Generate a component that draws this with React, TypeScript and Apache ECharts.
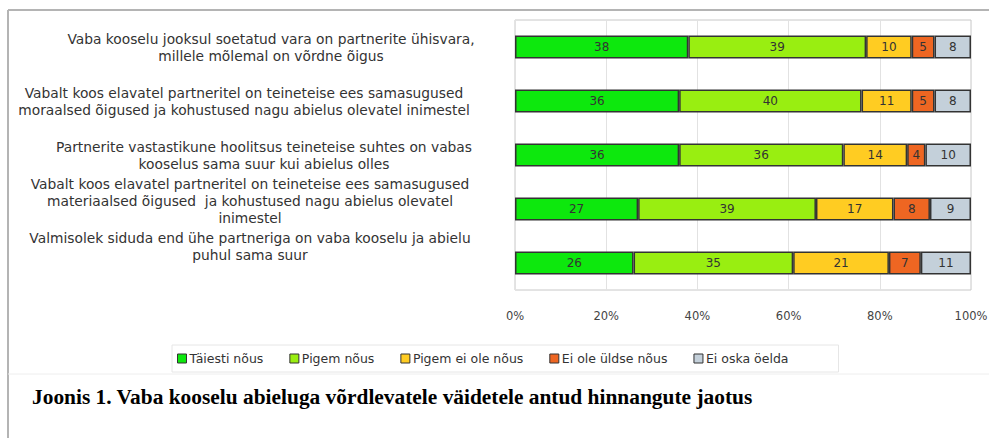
import React, { useEffect, useRef } from "react";
import * as echarts from "echarts";

const categories = [
  "Vaba kooselu jooksul soetatud vara on partnerite ühisvara,\nmillele mõlemal on võrdne õigus",
  "Vabalt koos elavatel partneritel on teineteise ees samasugused\nmoraalsed õigused ja kohustused nagu abielus olevatel inimestel",
  "Partnerite vastastikune hoolitsus teineteise suhtes on vabas\nkooselus sama suur kui abielus olles",
  "Vabalt koos elavatel partneritel on teineteise ees samasugused\nmateriaalsed õigused  ja kohustused nagu abielus olevatel\ninimestel",
  "Valmisolek siduda end ühe partneriga on vaba kooselu ja abielu\npuhul sama suur",
];

const seriesNames = ["Täiesti nõus", "Pigem nõus", "Pigem ei ole nõus", "Ei ole üldse nõus", "Ei oska öelda"];
const taiestiNous = [38, 36, 36, 27, 26];
const pigemNous = [39, 40, 36, 39, 35];
const pigemEiOleNous = [10, 11, 14, 17, 21];
const eiOleUldseNous = [5, 5, 4, 8, 7];
const eiOskaOelda = [8, 8, 10, 9, 11];
const xTicks = [0, 20, 40, 60, 80, 100];

const colors = ["#0de80d", "#99ee11", "#ffcc22", "#ee6622", "#c4d0da"];
// horizontal nudges of the category labels (left/right padding)
const labelPaddings = [
  [0, 0, 0, 42],
  [0, 12, 0, 0],
  [0, 0, 0, 28],
  [0, 0, 0, 0],
  [0, 0, 0, 0],
];
// blank trailing lines lift a label above its bar's centre
const trailingBlankLines = [0, 0, 0, 1, 2];

export default function App() {
  const ref = useRef<HTMLDivElement>(null);
  useEffect(() => {
    if (!ref.current) return;
    const chart = echarts.init(ref.current, null, { renderer: "svg" });
    const values = [taiestiNous, pigemNous, pigemEiOleNous, eiOleUldseNous, eiOskaOelda];
    const labelFont = {
      color: "#333",
      fontSize: 13.8,
      lineHeight: 17,
      fontFamily: "DejaVu Sans",
      align: "center",
      verticalAlign: "middle",
    };
    chart.setOption({
      animation: false,
      backgroundColor: "#ffffff",
      grid: {
        left: 515,
        right: 18,
        top: 20,
        bottom: 148,
        show: true,
        borderColor: "#c8c8c8",
        borderWidth: 1,
        containLabel: false,
        outerBoundsMode: "none",
      },
      xAxis: {
        type: "value",
        min: xTicks[0],
        max: xTicks[xTicks.length - 1],
        interval: 20,
        axisLine: { show: false },
        axisTick: { show: false },
        splitLine: { show: true, lineStyle: { color: "#e2e2e2", width: 1 } },
        axisLabel: {
          formatter: "{value}%",
          color: "#444",
          fontSize: 11.5,
          fontFamily: "DejaVu Sans",
          margin: 20,
        },
      },
      yAxis: {
        type: "category",
        inverse: true,
        data: categories.map((c, i) => ({
          value: c,
          textStyle: { ...labelFont, padding: labelPaddings[i] },
        })),
        axisLine: { show: false },
        axisTick: { show: false },
        axisLabel: {
          interval: 0,
          hideOverlap: false,
          margin: 265,
          ...labelFont,
          formatter: (v: string) => {
            const i = categories.indexOf(v);
            return v + "\n".repeat(i >= 0 ? trailingBlankLines[i] : 0);
          },
        },
      },
      legend: {
        data: seriesNames,
        left: 172,
        top: 345,
        icon: "rect",
        itemWidth: 9,
        itemHeight: 9,
        itemGap: 26,
        borderColor: "#e6e6e6",
        borderWidth: 1,
        padding: [7, 50, 7, 5],
        itemStyle: { borderColor: "#333", borderWidth: 1 },
        textStyle: { color: "#333", fontSize: 12.5, fontFamily: "DejaVu Sans", padding: [0, 0, 0, -2] },
      },
      graphic: [
        { type: "line", shape: { x1: 8, y1: 10, x2: 989, y2: 10 }, style: { stroke: "#b4b4b4", lineWidth: 2 } },
        { type: "line", shape: { x1: 8, y1: 10, x2: 8, y2: 438 }, style: { stroke: "#b4b4b4", lineWidth: 2 } },
        { type: "line", shape: { x1: 8, y1: 374, x2: 989, y2: 374 }, style: { stroke: "#eeeeee", lineWidth: 1 } },
        {
          type: "text",
          left: 32,
          top: 386,
          style: {
            text: "Joonis 1. Vaba kooselu abieluga võrdlevatele väidetele antud hinnangute jaotus",
            fontFamily: "Liberation Serif",
            fontWeight: "bold",
            fontSize: 21.4,
            fill: "#000",
          },
        },
      ],
      series: seriesNames.map((name, i) => ({
        name,
        type: "bar",
        stack: "total",
        data: values[i],
        barWidth: 23,
        itemStyle: { color: colors[i], borderColor: "#333", borderWidth: 1.5 },
        label: {
          show: true,
          position: "inside",
          color: "#333",
          fontSize: 12,
          fontFamily: "DejaVu Sans",
        },
      })),
    });
    return () => chart.dispose();
  }, []);
  return (
    <div
      ref={ref}
      style={{ position: "absolute", left: 0, top: 0, width: 989, height: 438 }}
    />
  );
}
